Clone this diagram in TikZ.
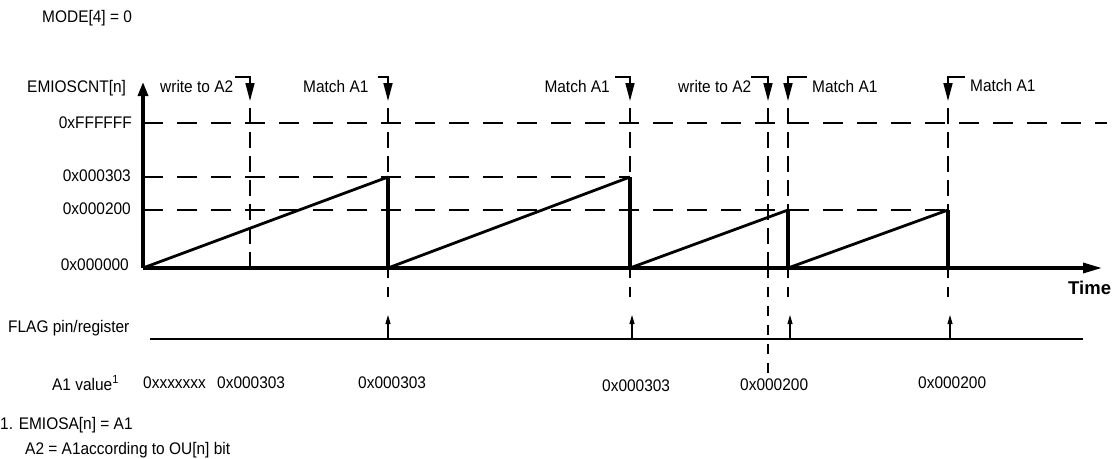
\documentclass[tikz,border=0pt]{standalone}
\usepackage{fontspec}
\setmainfont{Liberation Sans}[FakeStretch=0.92]
\newfontfamily\timefont{Liberation Sans}
\usetikzlibrary{arrows.meta,positioning,calc}

\begin{document}
\begin{tikzpicture}[x=1pt,y=-1pt,
  lab/.style={font=\fontsize{16.8}{18}\selectfont,inner sep=0pt},
  axis/.style={line width=3.2pt},
  guide/.style={line width=2pt,dash pattern=on 20pt off 14pt},
  vguide/.style={line width=2pt,dash pattern=on 16pt off 8pt},
  tickline/.style={line width=2pt,dash pattern=on 10pt off 9pt},
  ramp/.style={line width=2.8pt},
  drop/.style={line width=3.4pt},
  hook/.style={line width=1.6pt,-{Triangle[length=18pt,width=9pt]}},
  flagtip/.style={line width=1.1pt,-{Triangle[length=9pt,width=5pt]}}]
\useasboundingbox (0,0) rectangle (1115,458);

% texts on the left
\node[lab,anchor=west] (mode) at (42,18) {MODE[4] = 0};
\node[lab,anchor=west] (cnt) at (27,88) {EMIOSCNT[n]};
\node[lab,anchor=east] (vmax) at (132,123) {0xFFFFFF};
\node[lab,anchor=east] (v303) at (131,176) {0x000303};
\node[lab,anchor=east] (v200) at (131,209) {0x000200};
\node[lab,anchor=east] (v000) at (129,265) {0x000000};
\node[lab,anchor=west] (flag) at (8,328) {FLAG pin/register};
\node[lab,anchor=east] (aval) at (119,383) {A1 value\textsuperscript{1}};
\node[lab,anchor=west] (note1) at (0,425) {1. EMIOSA[n] = A1};
\node[lab,anchor=west] (note2) at (25,450) {A2 = A1according to OU[n] bit};
\node[lab,anchor=west,font=\timefont\bfseries\fontsize{18.5}{20}\selectfont] (time) at (1068,288) {Time};

% event labels
\node[lab,anchor=west] (wr1lab) at (160,86) {write to A2};
\node[lab,anchor=west] (ma1lab) at (303,86) {Match A1};
\node[lab,anchor=east] (ma2lab) at (610,86) {Match A1};
\node[lab,anchor=west] (wr2lab) at (678,86) {write to A2};
\node[lab,anchor=west] (ma3lab) at (812,86) {Match A1};
\node[lab,anchor=west] (ma4lab) at (970,85) {Match A1};

% A1 values
\node[lab,anchor=west] (a0) at (143,383) {0xxxxxxx};
\node[lab,anchor=west] (a1) at (217,383) {0x000303};
\node[lab,anchor=west] (a2) at (358,383) {0x000303};
\node[lab,anchor=west] (a3) at (602,386) {0x000303};
\node[lab,anchor=west] (a4) at (740,385) {0x000200};
\node[lab,anchor=west] (a5) at (918,383) {0x000200};

% axes and levels
\coordinate (o) at (143,268);
\coordinate (ytop) at (143,82);
\coordinate (xend) at (1102,268);
\coordinate (lmax) at (1107,123);
\coordinate (l303) at (630,177);
\coordinate (l200) at (948,210);
\coordinate (hookrow) at (0,77);

% event positions
\coordinate (wr1) at (250,101);
\coordinate (ma1) at (388,101);
\coordinate (ma2) at (630,101);
\coordinate (wr2) at (768,101);
\coordinate (ma3) at (788,101);
\coordinate (ma4) at (948,101);

% bent markers
\draw[hook] (wr1lab.east |- hookrow) ++(2,0) -| (wr1);
\draw[hook] (ma1lab.east |- hookrow) ++(9,0) -| (ma1);
\draw[hook] (ma2lab.east |- hookrow) ++(5,0) -| (ma2);
\draw[hook] (wr2lab.east |- hookrow) -| (wr2);
\draw[hook] (ma3lab.west |- hookrow) ++(-5,0) -| (ma3);
\draw[hook] (ma4lab.west |- hookrow) ++(-5,0) -| (ma4);

% dashed levels
\draw[guide] (143,123) -- (lmax);
\draw[guide] (143,177) -- (l303);
\draw[guide] (143,210) -- (l200);

% dashed event lines
\draw[vguide] ($(wr1)+(0,7)$) -- (wr1 |- o);
\draw[vguide] ($(ma1)+(0,7)$) -- (ma1 |- o);
\draw[vguide] ($(ma2)+(0,7)$) -- (ma2 |- o);
\draw[vguide] ($(wr2)+(0,7)$) -- (wr2 |- o);
\draw[vguide] ($(ma3)+(0,7)$) -- (ma3 |- o);
\draw[vguide] ($(ma4)+(0,7)$) -- (ma4 |- o);
\draw[tickline] (ma1 |- o) -- ($(ma1 |- o)+(0,36)$);
\draw[tickline] (ma2 |- o) -- ($(ma2 |- o)+(0,36)$);
\draw[tickline] (ma3 |- o) -- ($(ma3 |- o)+(0,36)$);
\draw[tickline] (ma4 |- o) -- ($(ma4 |- o)+(0,36)$);
\draw[tickline] (wr2 |- o) -- ($(wr2 |- o)+(0,109)$);

% counter ramps
\coordinate (p1) at (388,177);
\coordinate (p2) at (630,177);
\coordinate (p3) at (788,210);
\coordinate (p4) at (948,210);
\draw[ramp] (o) -- (p1);
\draw[ramp] (p1 |- o) -- (p2);
\draw[ramp] (p2 |- o) -- (p3);
\draw[ramp] (p3 |- o) -- (p4);
\draw[drop] (p1) -- (p1 |- o);
\draw[drop] (p2) -- (p2 |- o);
\draw[drop] (p3) -- (p3 |- o);
\draw[drop] (p4) -- (p4 |- o);

\draw[axis,-{Triangle[length=14pt,width=10pt]}] (o) -- (ytop);
\draw[axis,-{Triangle[length=19pt,width=10pt]}] (o) -- (xend);

% flag line
\coordinate (fstart) at (150,339);
\coordinate (fend) at (1083,339);
\draw[line width=2.2pt] (fstart) -- (fend);
\draw[flagtip] (ma1 |- fstart) -- ++(0,-24);
\draw[flagtip] (632,339) -- ++(0,-24);
\draw[flagtip] (790,339) -- ++(0,-24);
\draw[flagtip] (950,339) -- ++(0,-24);
\end{tikzpicture}
\end{document}
